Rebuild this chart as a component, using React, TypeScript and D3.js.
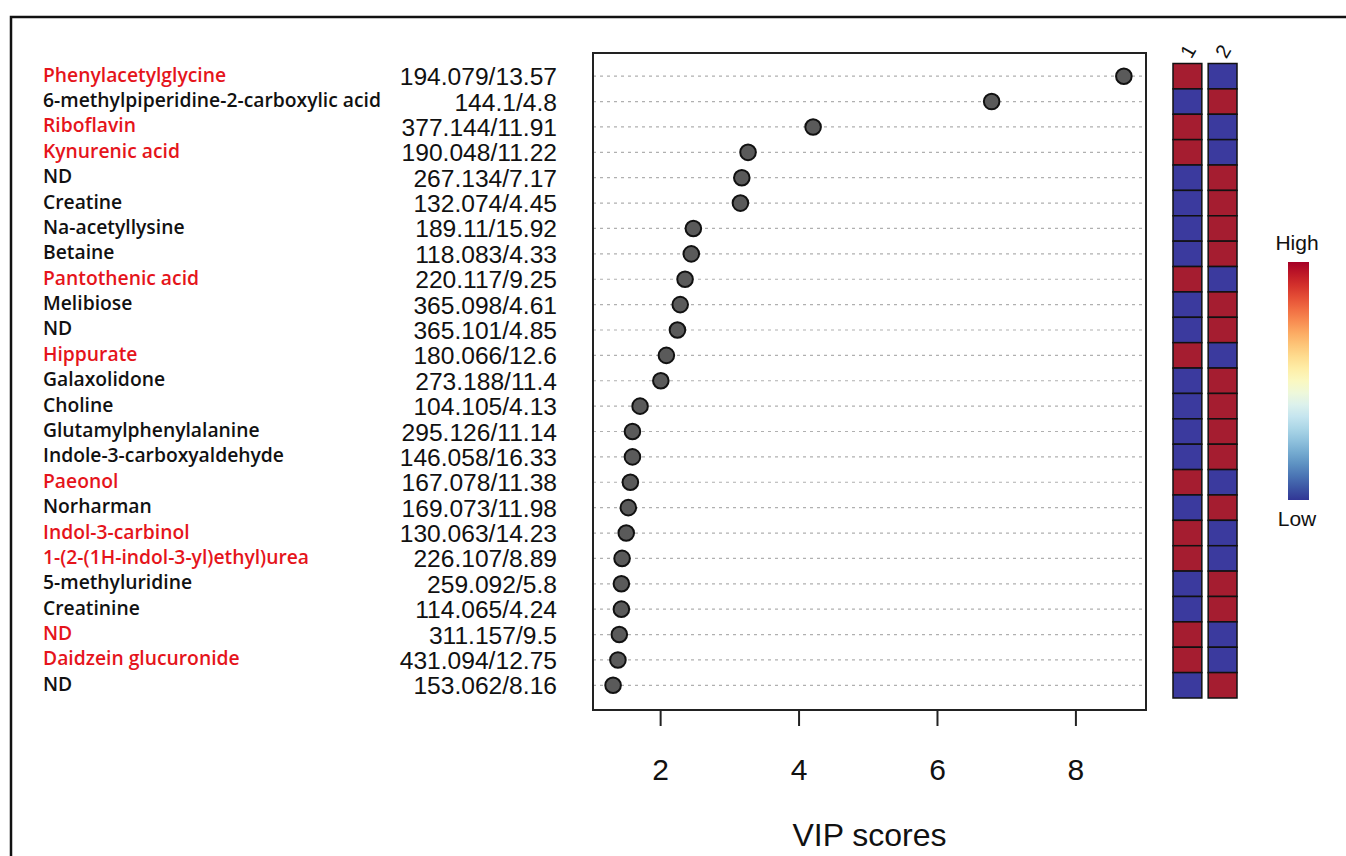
import React, { useEffect, useRef } from 'react'
import * as d3 from 'd3'

// metabolite names, top to bottom
const names = [
  'Phenylacetylglycine', '6-methylpiperidine-2-carboxylic acid', 'Riboflavin', 'Kynurenic acid', 'ND',
  'Creatine', 'Na-acetyllysine', 'Betaine', 'Pantothenic acid', 'Melibiose',
  'ND', 'Hippurate', 'Galaxolidone', 'Choline', 'Glutamylphenylalanine',
  'Indole-3-carboxyaldehyde', 'Paeonol', 'Norharman', 'Indol-3-carbinol', '1-(2-(1H-indol-3-yl)ethyl)urea',
  '5-methyluridine', 'Creatinine', 'ND', 'Daidzein glucuronide', 'ND',
]
// m/z / retention time
const mzRt = [
  '194.079/13.57', '144.1/4.8', '377.144/11.91', '190.048/11.22', '267.134/7.17',
  '132.074/4.45', '189.11/15.92', '118.083/4.33', '220.117/9.25', '365.098/4.61',
  '365.101/4.85', '180.066/12.6', '273.188/11.4', '104.105/4.13', '295.126/11.14',
  '146.058/16.33', '167.078/11.38', '169.073/11.98', '130.063/14.23', '226.107/8.89',
  '259.092/5.8', '114.065/4.24', '311.157/9.5', '431.094/12.75', '153.062/8.16',
]
const vip = [
  8.70, 6.79, 4.21, 3.27, 3.18,
  3.16, 2.48, 2.45, 2.36, 2.29,
  2.25, 2.09, 2.01, 1.71, 1.60,
  1.60, 1.57, 1.54, 1.51, 1.45,
  1.44, 1.44, 1.41, 1.39, 1.32,
]
// relative level in group 1 / group 2 (1 = high, -1 = low)
const group1 = [1, -1, 1, 1, -1, -1, -1, -1, 1, -1, -1, 1, -1, -1, -1, -1, 1, -1, 1, 1, -1, -1, 1, 1, -1]
const group2 = group1.map(v => -v)
const groups = ['1', '2']
const highlighted = [true, false, true, true, false, false, false, false, true, false, false, true, false, false, false, false, true, false, true, true, false, false, true, true, false]
const xTicks = [2, 4, 6, 8]

const W = 1346
const H = 856

export default function App() {
  const axisRef = useRef<SVGGElement>(null)

  const rows = names.map((n, i) => i)
  const y = d3.scaleBand<number>().domain(rows).range([63.5, 698])
  const yc = (i: number) => (y(i) as number) + y.bandwidth() / 2

  const plotL = 593, plotR = 1146, plotT = 53, plotB = 710
  const x = d3.scaleLinear().domain([1.03, 9.02]).range([plotL, plotR])

  const hx = d3.scaleBand().domain(groups).range([1173, 1237]).paddingInner(0.18)
  const heatColor = d3.scaleOrdinal<number, string>().domain([1, -1]).range(['#a51d30', '#3b3a9e'])
  const heat = [group1, group2]

  const legendScale = d3.scaleLinear().domain([0, 1]).range([262, 500])
  const stops = d3.range(0, 1.0001, 0.05)

  useEffect(() => {
    const g = d3.select(axisRef.current)
    g.selectAll('*').remove()
    g.call(d3.axisBottom(x).tickValues(xTicks).tickSize(16).tickPadding(33).tickFormat(d3.format('d')) as any)
    g.select('.domain').remove()
    g.selectAll('line').attr('stroke', '#222').attr('stroke-width', 2)
    g.selectAll('text')
      .attr('font-family', 'Liberation Sans, Arial, sans-serif')
      .attr('font-size', 30)
      .attr('fill', '#111')
  }, [])

  return (
    <svg width={W} height={H} style={{ position: 'absolute', left: 0, top: 0, background: '#fff' }}>
      <defs>
        <linearGradient id="legendGrad" x1="0" y1="0" x2="0" y2="1">
          {stops.map(s => (
            <stop key={s} offset={s} stopColor={d3.interpolateRdYlBu(s)} />
          ))}
        </linearGradient>
      </defs>

      {/* outer frame */}
      <path d={`M11,${H + 5} V17 H${W + 5}`} fill="none" stroke="#111" strokeWidth={2.5} />

      {/* metabolite names */}
      <g fontFamily="'Open Sans', Lato, sans-serif" fontWeight={600} fontSize={19.3}>
        {names.map((n, i) => (
          <text key={i} x={43} y={yc(i) + 5.5} fill={highlighted[i] ? '#e5141b' : '#111'}>{n}</text>
        ))}
      </g>
      <g fontFamily="'Liberation Sans', Arial, sans-serif" fontSize={24.6} textAnchor="end">
        {mzRt.map((m, i) => (
          <text key={i} x={557} y={yc(i) + 9} fill="#111">{m}</text>
        ))}
      </g>

      {/* dot chart */}
      <g>
        {rows.map(i => (
          <line key={i} x1={plotL} x2={plotR} y1={yc(i)} y2={yc(i)} stroke="#b0b0b0" strokeWidth={1.2} strokeDasharray="3,4" />
        ))}
        {rows.map(i => (
          <circle key={i} cx={x(vip[i])} cy={yc(i)} r={7.8} fill="#5a5a5a" stroke="#111" strokeWidth={2} />
        ))}
        <rect x={plotL} y={plotT} width={plotR - plotL} height={plotB - plotT} fill="none" stroke="#222" strokeWidth={2} />
        <g ref={axisRef} transform={`translate(0,${plotB})`} />
        <text x={(plotL + plotR) / 2} y={846} textAnchor="middle" fontFamily="'Liberation Sans', Arial, sans-serif" fontSize={32} fill="#111">VIP scores</text>
      </g>

      {/* heatmap */}
      <g>
        {groups.map((gname, gi) => (
          <g key={gname}>
            {rows.map(i => (
              <rect key={i} x={hx(gname)} y={y(i)} width={hx.bandwidth()} height={y.bandwidth()}
                fill={heatColor(heat[gi][i])} stroke="#111" strokeWidth={1.5} />
            ))}
            <text transform={`translate(${(hx(gname) as number) + hx.bandwidth() / 2 + 2},${52}) rotate(-60)`}
              textAnchor="middle" dominantBaseline="middle"
              fontFamily="'Liberation Sans', Arial, sans-serif" fontSize={20} fill="#111">{gname}</text>
          </g>
        ))}
      </g>

      {/* colour legend */}
      <g fontFamily="'Liberation Sans', Arial, sans-serif" fontSize={21} fill="#111" textAnchor="middle">
        <rect x={1288} y={legendScale(0)} width={21} height={legendScale(1) - legendScale(0)} fill="url(#legendGrad)" />
        <text x={1297} y={250}>High</text>
        <text x={1297} y={526}>Low</text>
      </g>
    </svg>
  )
}
